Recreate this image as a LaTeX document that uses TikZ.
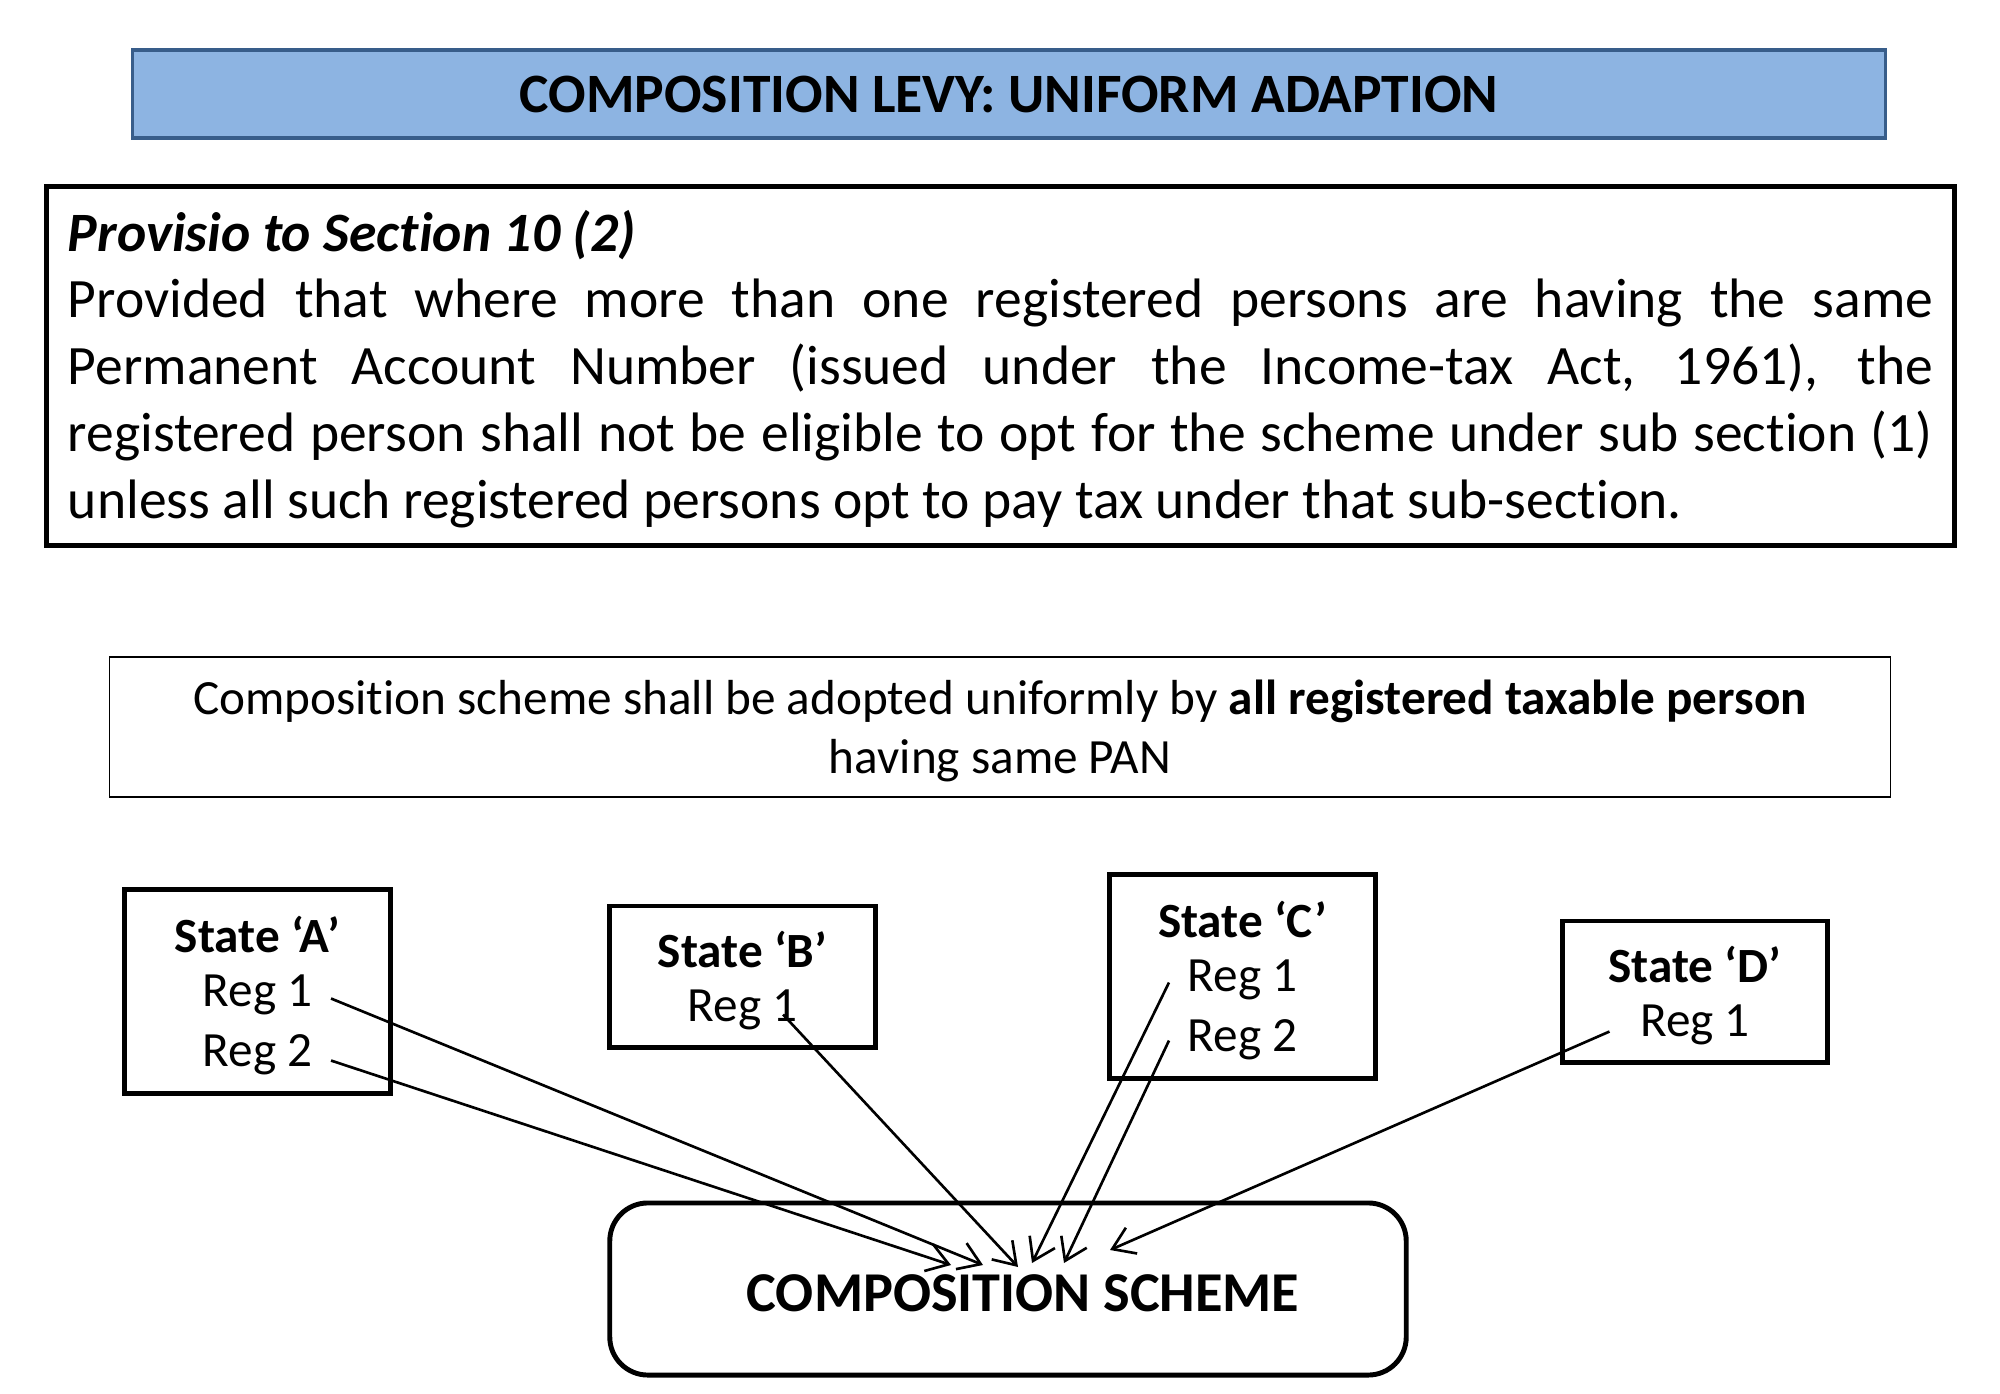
\documentclass[tikz,border=0pt]{standalone}
\usepackage{fontspec}
\setmainfont{Carlito}[Ligatures={TeX,NoCommon}]
\usetikzlibrary{positioning,calc,arrows.meta}
\definecolor{barfill}{RGB}{141,180,226}
\definecolor{barline}{RGB}{56,93,138}
\begin{document}
\begin{tikzpicture}[x=0.01cm,y=-0.01cm,>={Straight Barb[length=6pt,width=8pt]},
	box/.style={draw,line width=1.4pt},
	statebox/.style={box,minimum width=2.65cm},
	reg/.style={inner xsep=0.18cm,inner ysep=0pt,font=\fontsize{14}{17}\selectfont},
	head/.style={reg,font=\fontsize{14}{17}\selectfont\bfseries},
	link/.style={->,line width=0.75pt},
	on grid,node distance=0.6cm]
	\useasboundingbox (0,0) rectangle (2000,1394);
	\node[draw=barline,fill=barfill,line width=1.1pt,minimum width=17.52cm,minimum height=0.88cm,font=\fontsize{15.8}{19}\selectfont\bfseries] (title) at (1009,94) {COMPOSITION LEVY: UNIFORM ADAPTION};
	\node[box,minimum width=19.07cm,minimum height=3.58cm] (prov) at (1000.5,366) {};
	\node[text width=18.64cm,align=justify,inner sep=0pt,font={\fontsize{15.8}{19}\selectfont\tolerance=9999\hbadness=10000}] (provtext) at ([yshift=-0.03cm]prov.center) {\textbf{\textit{Provisio to Section 10 (2)}}\\
		Provided that where more than one registered persons are having the same\linebreak
		Permanent Account Number (issued under the Income-tax Act, 1961), the\linebreak
		registered person shall not be eligible to opt for the scheme under sub section (1)\linebreak
		unless all such registered persons opt to pay tax under that sub-section.};
	\node[draw,line width=0.5pt,minimum width=17.8cm,minimum height=1.4cm] (rule) at (1000,727) {};
	\node[align=center,font=\fontsize{14}{16.8}\selectfont] (ruletext) at ([yshift=-0.04cm]rule.center) {Composition scheme shall be adopted uniformly by \textbf{all registered taxable person}\\having same PAN};
	% states
	\node[statebox,minimum height=2.03cm] (sa) at (257.5,991.5) {};
	\node[reg] (a1) at ([yshift=-0.03cm]sa.center) {Reg 1};
	\node[head,above=of a1] (ha) {State ‘A’};
	\node[reg,below=of a1] (a2) {Reg 2};
	\node[statebox,minimum height=1.41cm] (sb) at (742.5,976.5) {};
	\node[head] (hb) at ([yshift=0.27cm]sb.center) {State ‘B’};
	\node[reg,below=of hb] (b1) {Reg 1};
	\node[statebox,minimum height=2.03cm] (sc) at (1242.5,976.5) {};
	\node[reg] (c1) at ([yshift=-0.03cm]sc.center) {Reg 1};
	\node[head,above=of c1] (hc) {State ‘C’};
	\node[reg,below=of c1] (c2) {Reg 2};
	\node[statebox,minimum height=1.41cm] (sd) at (1695,991.5) {};
	\node[head] (hd) at ([yshift=0.27cm]sd.center) {State ‘D’};
	\node[reg,below=of hd] (d1) {Reg 1};
	% scheme
	\node[box,rounded corners=0.38cm,minimum width=7.96cm,minimum height=1.72cm] (cs) at (1008,1289) {};
	\node[font=\fontsize{16}{19}\selectfont\bfseries] (cstext) at (1023,1293) {COMPOSITION SCHEME};
	\coordinate (ta1) at (983,1265);
	\coordinate (ta2) at (951,1265);
	\coordinate (tb1) at (1018,1267);
	\coordinate (tc1) at (1032,1263);
	\coordinate (tc2) at (1064,1263);
	\coordinate (td1) at (1110,1250);
	\draw[link] ($(a1.east)+(0,4)$) -- (ta1);
	\draw[link] ($(a2.east)+(0,6)$) -- (ta2);
	\draw[link] ($(b1.east)+(-33,5)$) -- (tb1);
	\draw[link] ($(c1.west)+(0,3)$) -- (tc1);
	\draw[link] ($(c2.west)+(0,1)$) -- (tc2);
	\draw[link] ($(d1.west)+(-12,7)$) -- (td1);
\end{tikzpicture}
\end{document}
